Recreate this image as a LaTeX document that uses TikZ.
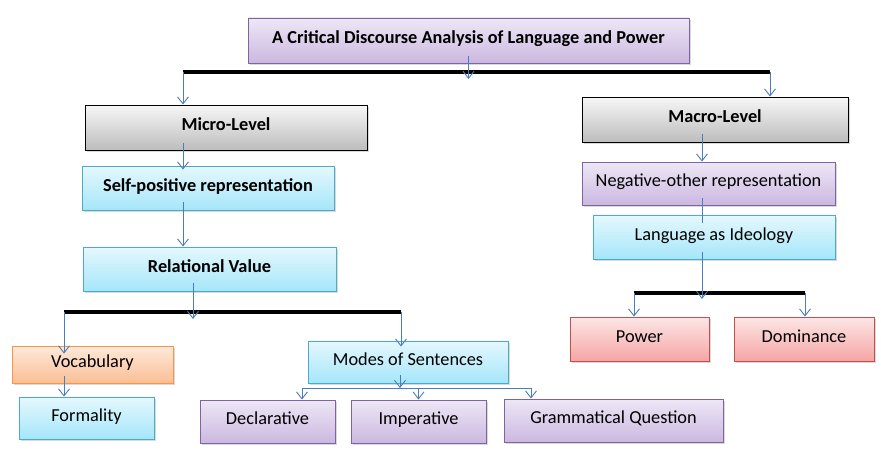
\documentclass[tikz,border=0pt]{standalone}
\usepackage{fontspec}
\setmainfont{Carlito}
\usetikzlibrary{arrows.meta, shadows}

\definecolor{lineblue}{HTML}{4A7EBB}
\definecolor{purpleline}{HTML}{8064A2}
\definecolor{purpletop}{HTML}{EEE7F6}
\definecolor{purplebot}{HTML}{CBB8E0}
\definecolor{cyanline}{HTML}{4BACC6}
\definecolor{cyantop}{HTML}{E5F8FD}
\definecolor{cyanbot}{HTML}{A5E6FA}
\definecolor{graytop}{HTML}{F7F7F7}
\definecolor{graybot}{HTML}{BDBDBD}
\definecolor{orangeline}{HTML}{F79646}
\definecolor{orangetop}{HTML}{FDE9DA}
\definecolor{orangebot}{HTML}{FBBF96}
\definecolor{redline}{HTML}{C0504D}
\definecolor{redtop}{HTML}{FCE6E6}
\definecolor{redbot}{HTML}{F6A5A5}

\begin{document}
\begin{tikzpicture}[x=1pt, y=-1pt, >={Straight Barb[length=7pt,width=11pt]},
  font=\fontsize{18.3}{21}\selectfont]
\tikzstyle{box}=[rectangle, inner sep=0pt, line width=0.9pt, text height=11pt, text depth=5pt,
  drop shadow={opacity=0.3, shadow xshift=2pt, shadow yshift=-2pt}]
\tikzstyle{bold}=[font=\fontsize{18.3}{21}\selectfont\bfseries]
\tikzstyle{purplebox}=[box, draw=purpleline, top color=purpletop, bottom color=purplebot]
\tikzstyle{cyanbox}=[box, draw=cyanline, top color=cyantop, bottom color=cyanbot]
\tikzstyle{graybox}=[box, draw=black, top color=graytop, bottom color=graybot]
\tikzstyle{orangebox}=[box, draw=orangeline, top color=orangetop, bottom color=orangebot]
\tikzstyle{redbox}=[box, draw=redline, top color=redtop, bottom color=redbot]
\tikzstyle{arr}=[->, draw=lineblue, line width=0.9pt]
\tikzstyle{bar}=[line width=3.5pt, black]

\useasboundingbox (0,0) rectangle (881,460);

% boxes
\node[purplebox, bold, minimum width=441, minimum height=45] (T) at (468.5,40.5) {A Critical Discourse Analysis of Language and Power};
\node[graybox, bold, minimum width=282, minimum height=45] (Mi) at (226,127.5) {Micro-Level};
\node[graybox, bold, minimum width=266, minimum height=45] (Ma) at (715,119.5) {Macro-Level};
\node[cyanbox, bold, minimum width=252, minimum height=44] (SP) at (208,188) {Self-positive representation};
\node[cyanbox, bold, minimum width=253, minimum height=44] (RV) at (209.5,269) {Relational Value};
\node[purplebox, minimum width=253, minimum height=43] (NO) at (708.5,183.5) {Negative-other representation};
\node[cyanbox, minimum width=242, minimum height=44] (LI) at (714,237) {Language as Ideology};
\node[redbox, minimum width=139, minimum height=44] (P) at (639.5,339) {Power};
\node[redbox, minimum width=140, minimum height=44] (D) at (804,339) {Dominance};
\node[orangebox, minimum width=161, minimum height=37] (V) at (92.5,364.5) {Vocabulary};
\node[cyanbox, minimum width=135, minimum height=42] (F) at (86.5,418) {Formality};
\node[cyanbox, minimum width=200, minimum height=42] (MS) at (408,362) {Modes of Sentences};
\node[purplebox, minimum width=135, minimum height=43] (De) at (267.5,421.5) {Declarative};
\node[purplebox, minimum width=135, minimum height=43] (Im) at (418.5,421.5) {Imperative};
\node[purplebox, minimum width=219, minimum height=43] (GQ) at (613.5,420.5) {Grammatical Question};

% bars
\coordinate (b1l) at (183,72);
\coordinate (b1r) at (770,72);
\coordinate (b2l) at (64,312);
\coordinate (b2r) at (401,312);
\coordinate (b2m) at (193,312);
\coordinate (b3l) at (302,388);
\coordinate (b3r) at (531,388);
\coordinate (b3m) at (400,388);
\coordinate (b4l) at (634,293);
\coordinate (b4r) at (805,293);
\coordinate (b4m) at (702,293);

\draw[bar] (b1l) -- (b1r);
\draw[bar] (b2l) -- (b2r);
\draw[bar] (b4l) -- (b4r);
\draw[lineblue, line width=0.9pt] (b3l) -- (b3r);

% connectors
\draw[arr, shorten <=-7pt, shorten >=-7pt] (T.south) -- (T.south |- b1l);
\draw[arr] (b1l) -- (b1l |- Mi.north);
\draw[arr] (b1r) -- (b1r |- Ma.north);
\draw[arr, shorten <=-7pt, shorten >=-4pt] (b1l |- Mi.south) -- (b1l |- SP.north);
\draw[arr, shorten <=-8pt] (b1l |- SP.south) -- (b1l |- RV.north);
\draw[arr, shorten <=-8pt, shorten >=-7pt] (b2m |- RV.south) -- (b2m);
\draw[arr, shorten >=-8pt] (b2l) -- (b2l |- V.north);
\draw[arr, shorten >=-6pt] (b2r) -- (b2r |- MS.north);
\draw[arr, shorten <=-7pt] (b2l |- V.south) -- (b2l |- F.north);
\draw[arr, shorten <=-8pt] (b3m |- MS.south) -- (b3m);
\draw[arr] (b3l) -- (b3l |- De.north);
\draw[arr] (Im.north |- b3l) -- (Im.north);
\draw[arr] (b3r) -- (b3r |- GQ.north);
\draw[arr, shorten <=-8pt] (b4m |- Ma.south) -- (b4m |- NO.north);
\draw[lineblue, line width=0.9pt, shorten <=-7pt, shorten >=-8pt] (b4m |- NO.south) -- (b4m |- LI.north);
\draw[arr, shorten <=-7pt, shorten >=-6pt] (b4m |- LI.south) -- (b4m);
\draw[arr] (b4l) -- (b4l |- P.north);
\draw[arr] (b4r) -- (b4r |- D.north);
\end{tikzpicture}
\end{document}
